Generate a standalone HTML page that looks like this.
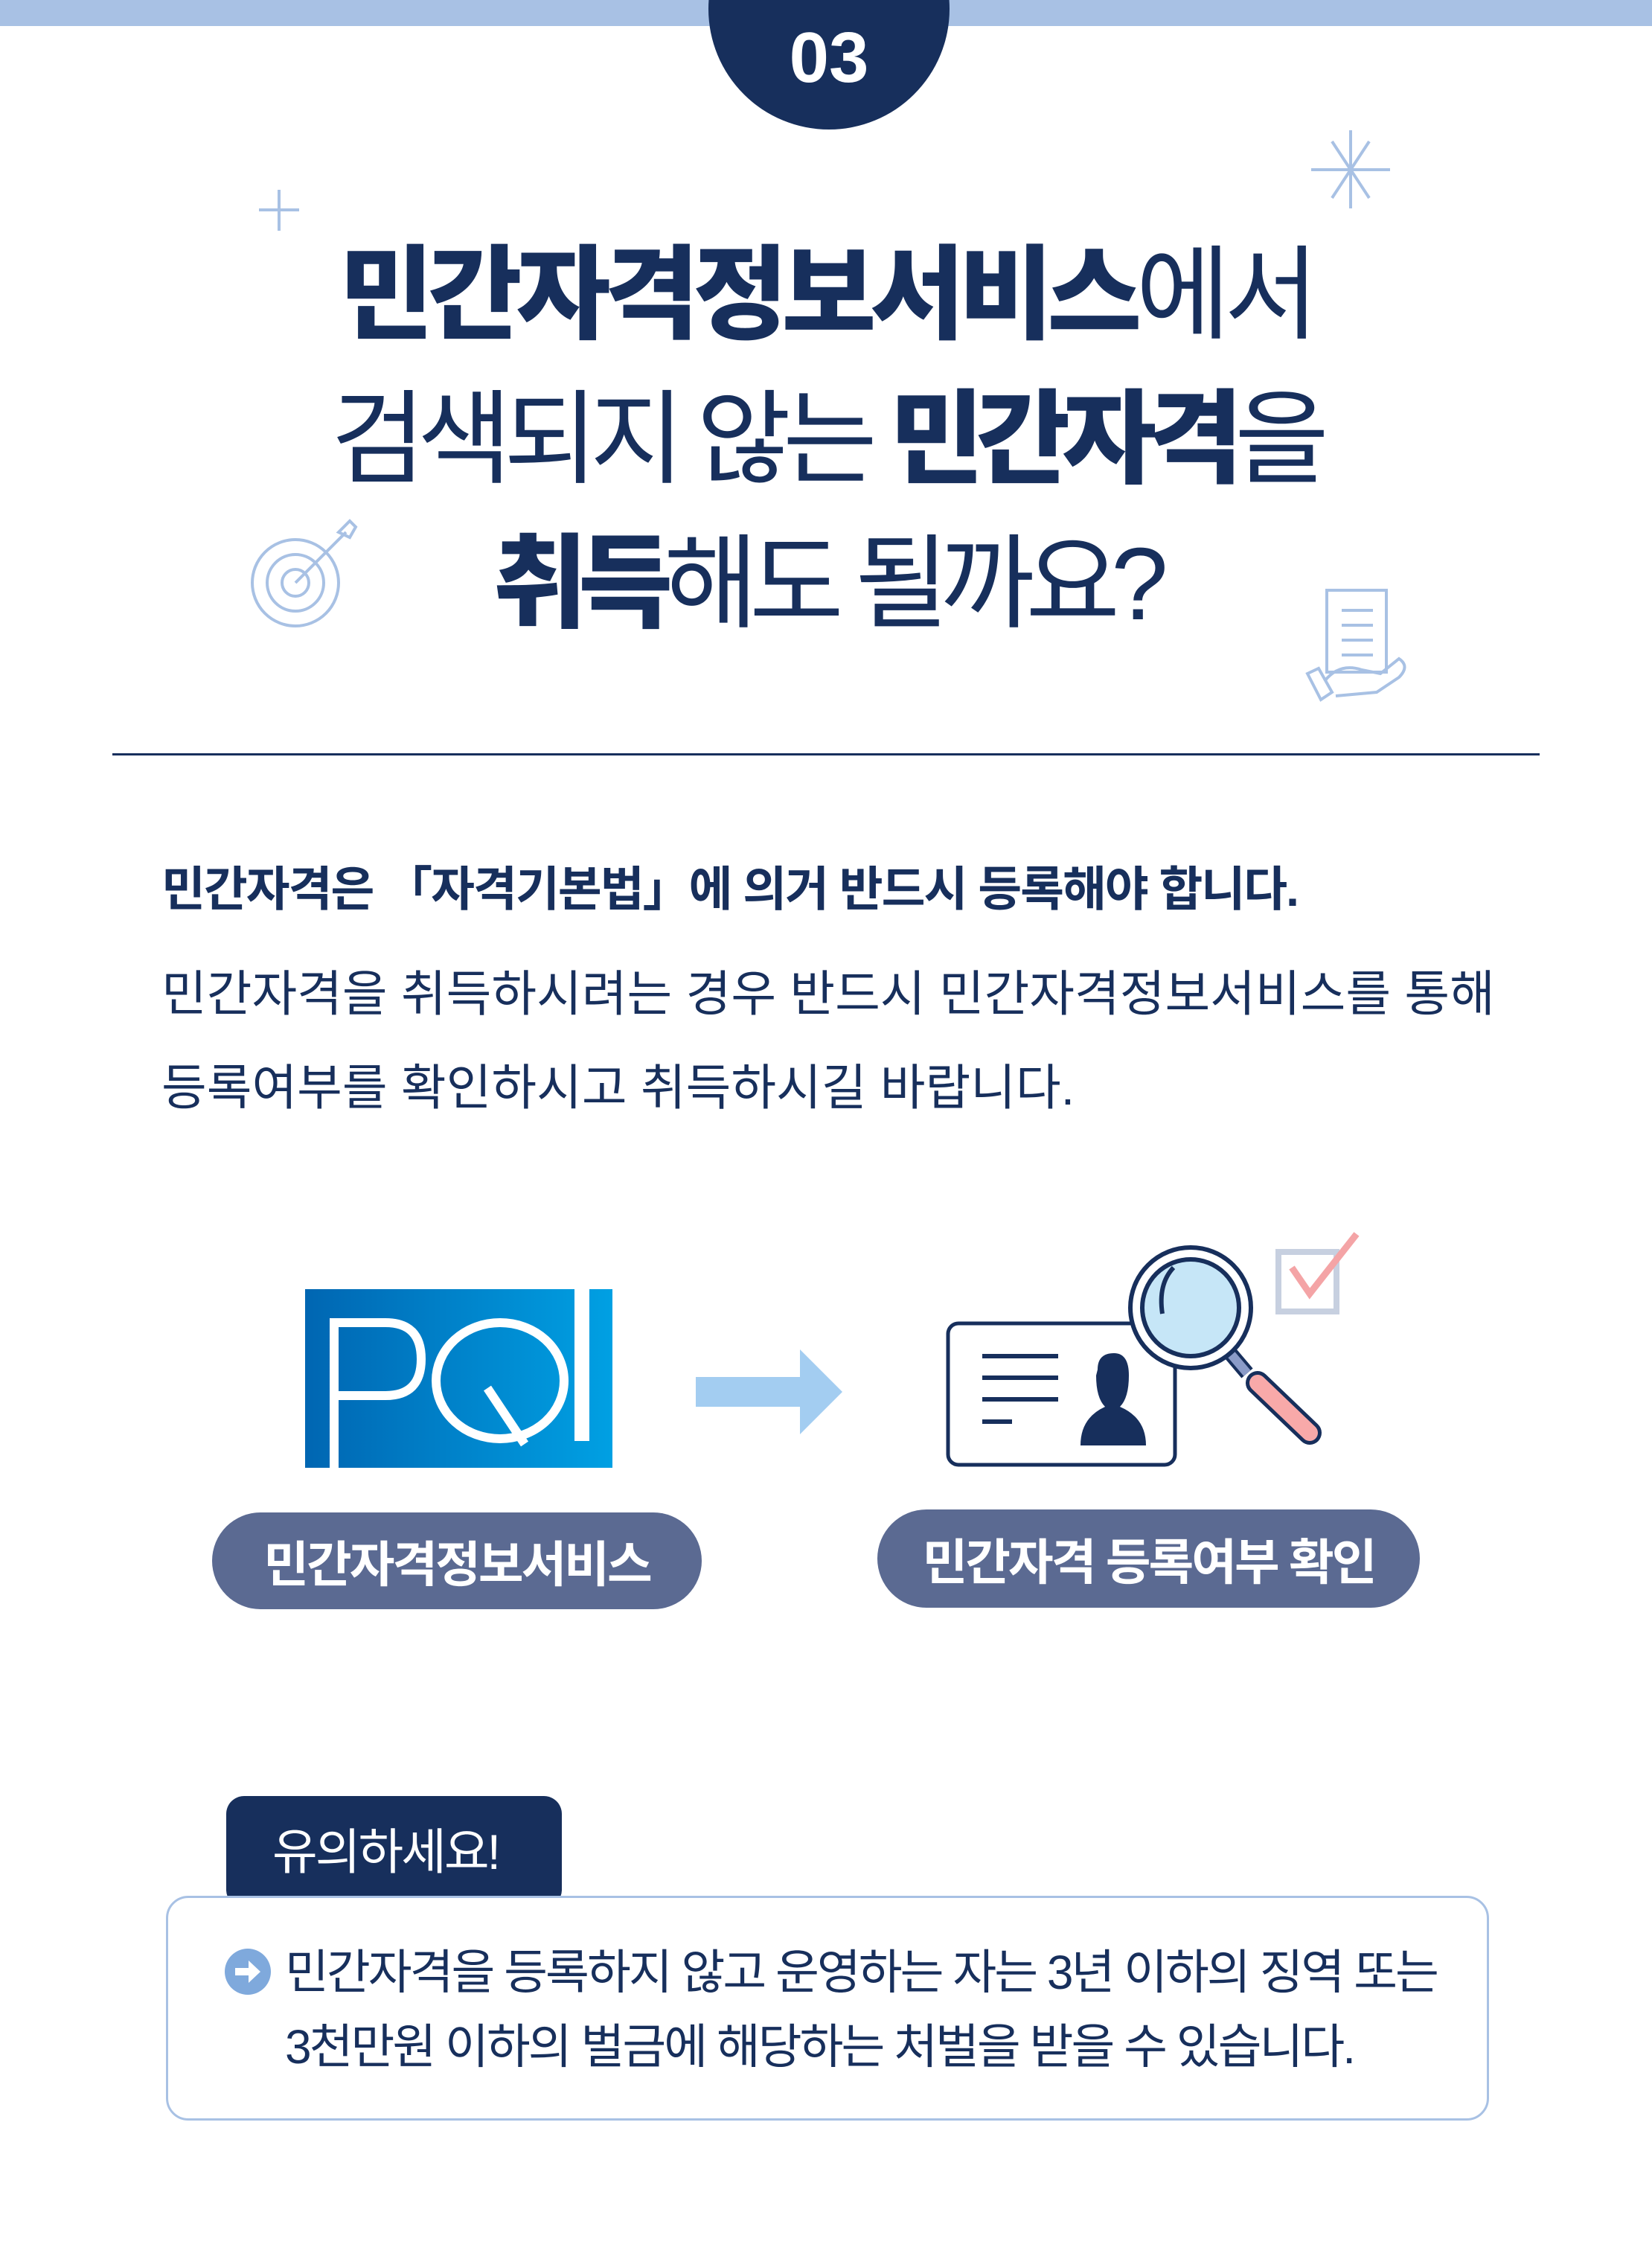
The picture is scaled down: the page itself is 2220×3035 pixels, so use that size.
<!DOCTYPE html>
<html><head><meta charset="utf-8"><style>
*{margin:0;padding:0;box-sizing:border-box}
body{width:2220px;height:3035px;background:#fff;position:relative;overflow:hidden;font-family:"Liberation Sans","Noto Sans CJK KR",sans-serif;color:#172f5c}
.a{position:absolute}
.t{left:0;width:2220px;text-align:center;font-size:138px;letter-spacing:-10px;line-height:1;white-space:nowrap}
.t b{font-weight:900}
.t span{font-weight:400}
.pill{background:#5b6a92;color:#fff;border-radius:70px;font-weight:700;font-size:66px;letter-spacing:-3px;text-align:center;display:flex;align-items:center;justify-content:center}
</style></head><body>
<div class="a" style="left:0;top:0;width:2220px;height:35px;background:#a8c1e4"></div>
<div class="a" style="left:952px;top:-150px;width:324px;height:324px;border-radius:50%;background:#172f5c"></div>
<div class="a" style="left:952px;top:30px;width:324px;text-align:center;color:#fff;font-weight:700;font-size:96px;line-height:1">03</div>

<svg class="a" style="left:0;top:0" width="2220" height="1000">
 <g stroke="#a8c1e4" stroke-width="4" fill="none">
  <line x1="375" y1="255" x2="375" y2="310"/><line x1="348" y1="282" x2="402" y2="282"/>
  <line x1="1815" y1="175" x2="1815" y2="280"/><line x1="1762" y1="228" x2="1868" y2="228"/>
  <line x1="1790" y1="190" x2="1840" y2="266"/><line x1="1840" y1="190" x2="1790" y2="266"/>
  <circle cx="397" cy="783" r="58"/><circle cx="397" cy="783" r="38"/><circle cx="397" cy="783" r="18"/>
  <line x1="397" y1="783" x2="465" y2="715"/><path d="M455 715 L470 700 L478 708 L470 722 Z"/>
  <rect x="1783" y="793" width="80" height="110"/>
  <line x1="1803" y1="820" x2="1845" y2="820"/><line x1="1803" y1="840" x2="1845" y2="840"/><line x1="1803" y1="860" x2="1845" y2="860"/><line x1="1803" y1="880" x2="1845" y2="880"/>
  <path d="M1757 905 L1775 940 L1790 930 L1772 898 Z"/><path d="M1780 915 Q1800 890 1830 900 L1855 905 L1880 885 Q1895 895 1880 910 L1850 930 L1795 935"/>
 </g>
</svg>

<div class="a t" style="top:328px;letter-spacing:-8px"><b>민간자격정보서비스</b><span>에서</span></div>
<div class="a t" style="top:522px;letter-spacing:-11px"><span>검색되지 않는 </span><b>민간자격</b><span>을</span></div>
<div class="a t" style="top:716px;letter-spacing:-12px"><b>취득</b><span>해도 될까요?</span></div>

<div class="a" style="left:151px;top:1012px;width:1918px;height:3px;background:#172f5c"></div>

<div class="a" style="left:217px;top:1144px;font-size:64px;font-weight:700;letter-spacing:-2px;white-space:nowrap">민간자격은 「자격기본법」에 의거 반드시 등록해야 합니다.</div>
<div class="a" style="left:217px;top:1272px;font-size:66px;letter-spacing:0px;line-height:126px;white-space:nowrap">민간자격을 취득하시려는 경우 반드시 민간자격정보서비스를 통해<br>등록여부를 확인하시고 취득하시길 바랍니다.</div>

<svg class="a" style="left:0;top:1600px" width="2220" height="420">
 <defs><linearGradient id="g" x1="0" x2="1"><stop offset="0" stop-color="#0066b2"/><stop offset="1" stop-color="#00a0e3"/></linearGradient></defs>
 <rect x="410" y="132" width="413" height="240" fill="url(#g)"/>
 <rect x="443" y="171" width="12" height="201" fill="#fff"/>
 <path d="M449 177 H518 Q566 177 566 226 Q566 275 518 275 H449" stroke="#fff" stroke-width="12" fill="none"/>
 <ellipse cx="672" cy="255" rx="86" ry="78" stroke="#fff" stroke-width="12" fill="none"/>
 <line x1="655" y1="265" x2="705" y2="340" stroke="#fff" stroke-width="12"/>
 <rect x="772" y="132" width="20" height="204" fill="#fff"/>
 <rect x="935" y="250" width="140" height="40" fill="#a3cdf1"/>
 <path d="M1075 213 L1132 270 L1075 327 Z" fill="#a3cdf1"/>
 <rect x="1274" y="178" width="305" height="190" rx="14" fill="#fff" stroke="#172f5c" stroke-width="5"/>
 <g stroke="#172f5c" stroke-width="6"><line x1="1320" y1="222" x2="1422" y2="222"/><line x1="1320" y1="251" x2="1422" y2="251"/><line x1="1320" y1="280" x2="1422" y2="280"/><line x1="1320" y1="310" x2="1360" y2="310"/></g>
 <path d="M1475 240 q0-22 22-22 q20 0 20 30 q0 30-12 42 q35 15 35 52 h-88 q0-37 33-52 q-12-12-12-42z" fill="#172f5c"/>
 <rect x="1718" y="82" width="78" height="80" fill="none" stroke="#c7d0e0" stroke-width="8"/>
 <path d="M1736 103 L1760 138 L1823 58" stroke="#f4a4a6" stroke-width="9" fill="none"/>
 <line x1="1648" y1="212" x2="1676" y2="245" stroke="#172f5c" stroke-width="20"/>
 <line x1="1648" y1="212" x2="1676" y2="245" stroke="#8a9bc8" stroke-width="12"/>
 <line x1="1690" y1="258" x2="1760" y2="325" stroke="#172f5c" stroke-width="32" stroke-linecap="round"/>
 <line x1="1690" y1="258" x2="1760" y2="325" stroke="#f8a9a9" stroke-width="22" stroke-linecap="round"/>
 <circle cx="1600" cy="157" r="81" fill="#fff" stroke="#172f5c" stroke-width="6"/>
 <circle cx="1600" cy="157" r="65" fill="#c6e6f7" stroke="#172f5c" stroke-width="6"/>
 <path d="M1562 165 q-6-40 15-62" stroke="#172f5c" stroke-width="6" fill="none"/>
</svg>

<div class="a pill" style="left:285px;top:2032px;width:658px;height:130px">민간자격정보서비스</div>
<div class="a pill" style="left:1179px;top:2028px;width:729px;height:132px">민간자격 등록여부 확인</div>

<div class="a" style="left:304px;top:2413px;width:451px;height:150px;background:#172f5c;border-radius:24px;color:#fff;font-size:66px;letter-spacing:-3px;padding-left:62px;padding-top:22px">유의하세요!</div>
<div class="a" style="left:223px;top:2547px;width:1778px;height:302px;border:3px solid #a8c1e4;border-radius:30px;background:#fff"></div>
<svg class="a" style="left:300px;top:2616px" width="66" height="66"><circle cx="33" cy="33" r="31" fill="#7fa9dc"/><path d="M16 28 h18 v-10 l16 15 l-16 15 v-10 h-18z" fill="#fff"/></svg>
<div class="a" style="left:383px;top:2600px;font-size:64px;letter-spacing:-3px;line-height:100px;white-space:nowrap">민간자격을 등록하지 않고 운영하는 자는 3년 이하의 징역 또는<br>3천만원 이하의 벌금에 해당하는 처벌을 받을 수 있습니다.</div>
</body></html>
